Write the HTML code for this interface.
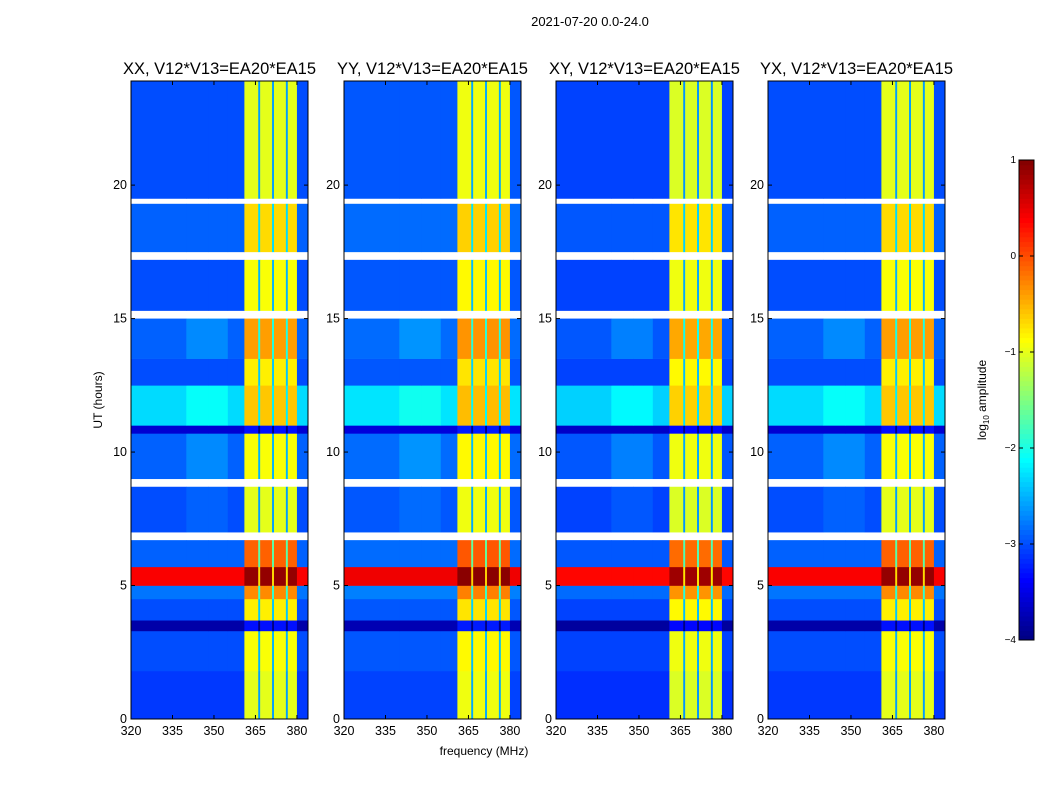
<!DOCTYPE html>
<html><head><meta charset="utf-8"><style>
body{margin:0;background:#fff;font-family:"Liberation Sans",sans-serif}
svg{display:block}
</style></head><body>
<svg id="fig" width="1050" height="800" xmlns="http://www.w3.org/2000/svg">
<rect width="1050" height="800" fill="#fff"/>
<text x="590" y="26" font-size="13" text-anchor="middle">2021-07-20 0.0-24.0</text>
<text x="484" y="755" font-size="12" text-anchor="middle">frequency (MHz)</text>
<text transform="translate(102,400) rotate(-90)" font-size="12" text-anchor="middle">UT (hours)</text>
<text transform="translate(986,400) rotate(-90)" font-size="12" text-anchor="middle">log<tspan font-size="8" dy="3">10</tspan><tspan dy="-3"> amplitude</tspan></text>
</svg>
<script>
const panelTitles=["XX, V12*V13=EA20*EA15","YY, V12*V13=EA20*EA15","XY, V12*V13=EA20*EA15","YX, V12*V13=EA20*EA15"];
const freqEdges=[320,340,348,355,361,366,366.7,371,371.7,376,376.7,380,384];
const freqType=[0,0,0,0,1,2,1,2,1,2,1,0];
const timeEdges=[0,1.8,3.3,3.7,4.5,5.0,5.7,6.7,7.0,8.7,9.0,10.7,11.0,12.5,13.5,15.0,15.3,17.2,17.5,19.3,19.5,24];
const bgLevel=[-3.1,-3.0,-3.8,-3.0,-2.8,0.4,-2.9,null,-3.0,null,-2.9,-3.6,-2.3,-3.0,-2.9,null,-3.0,null,-2.9,null,-3.0];
const bandLevel=[-1.0,-0.9,-3.3,-0.8,-0.3,0.9,-0.1,null,-1.0,null,-0.9,-3.3,-0.6,-0.8,-0.4,null,-0.9,null,-0.7,null,-1.0];
const midBoost=[0,0,0,0,0,0,0,0,0.1,0,0.2,0,0.2,0,0.2,0,0,0,0,0,0];
const panelOffset=[0,0.05,-0.05,0];
const xTicks=[320,335,350,365,380];
const yTicks=[0,5,10,15,20];
const cbTicks=[1,0,-1,-2,-3,-4];
const NS="http://www.w3.org/2000/svg";
const svg=document.getElementById('fig');
const panelLeft=[131,344,556,768],PW=177,PT=81,PB=719;
const fMin=320,fMax=384,tMin=0,tMax=23.9,vMin=-4,vMax=1;
function jet(v){let t=(v-vMin)/(vMax-vMin);t=Math.max(0,Math.min(1,t));
 const r=Math.max(0,Math.min(1,1.5-Math.abs(4*t-3))),g=Math.max(0,Math.min(1,1.5-Math.abs(4*t-2))),b=Math.max(0,Math.min(1,1.5-Math.abs(4*t-1)));
 return `rgb(${Math.round(r*255)},${Math.round(g*255)},${Math.round(b*255)})`;}
function mk(tag,attrs,parent){const e=document.createElementNS(NS,tag);for(const k in attrs)e.setAttribute(k,attrs[k]);(parent||svg).appendChild(e);return e;}
panelTitles.forEach((title,p)=>{
 const L=panelLeft[p];
 const xs=f=>L+(f-fMin)/(fMax-fMin)*PW;
 const ys=t=>PB-(t-tMin)/(tMax-tMin)*(PB-PT);
 const g=mk('g',{});
 
 
 for(let i=0;i<timeEdges.length-1;i++){
  for(let j=0;j<freqEdges.length-1;j++){
   let v;
   if(bgLevel[i]===null) continue;
   const ty=freqType[j];
   if(ty===0) v=bgLevel[i]+((j===1||j===2)?midBoost[i]:0);
   else if(ty===1) v=bandLevel[i];
   else v=bandLevel[i]-1.6;
   v+=panelOffset[p];
   const y0=ys(Math.min(timeEdges[i+1],tMax)),y1=ys(timeEdges[i]);
   const r=mk('rect',{x:xs(freqEdges[j]),y:y0,width:xs(freqEdges[j+1])-xs(freqEdges[j])+0.3,height:y1-y0+0.3,fill:jet(v)},g);
   
   
  }
 }
 const fr=mk('rect',{x:L,y:PT,width:PW,height:PB-PT,fill:'none',stroke:'#000','stroke-width':1},g);
 
 
 const tt=mk('text',{x:L+PW/2,y:74,'font-size':16.5,'text-anchor':'middle'},g);tt.textContent=title;
 
 
 xTicks.forEach(f=>{const x=xs(f);
  mk('line',{x1:x,x2:x,y1:PB,y2:PB-4,stroke:'#000'},g);mk('line',{x1:x,x2:x,y1:PT,y2:PT+4,stroke:'#000'},g);
  const t=mk('text',{x:x,y:PB+16,'font-size':12.5,'text-anchor':'middle'},g);t.textContent=f;
  
  });
 yTicks.forEach(h=>{const y=ys(h);
  mk('line',{x1:L,x2:L+4,y1:y,y2:y,stroke:'#000'},g);mk('line',{x1:L+PW,x2:L+PW-4,y1:y,y2:y,stroke:'#000'},g);
  const t=mk('text',{x:L-4,y:y+4,'font-size':12.5,'text-anchor':'end'},g);t.textContent=h;
  
  });
});
const CX=1019,CW=15,CT=160,CB=640;
const cy=v=>CB-(v-vMin)/(vMax-vMin)*(CB-CT);
const cbg=mk('g',{});


for(let k=0;k<100;k++){const v0=vMin+(vMax-vMin)*k/100,v1=vMin+(vMax-vMin)*(k+1)/100;
 mk('rect',{x:CX,y:cy(v1),width:CW,height:cy(v0)-cy(v1)+0.5,fill:jet((v0+v1)/2)},cbg);}
mk('rect',{x:CX,y:CT,width:CW,height:CB-CT,fill:'none',stroke:'#000'},cbg);
cbTicks.forEach(v=>{const y=cy(v);
 mk('line',{x1:CX+CW,x2:CX+CW-4,y1:y,y2:y,stroke:'#000'},cbg);mk('line',{x1:CX,x2:CX+4,y1:y,y2:y,stroke:'#000'},cbg);
 const t=mk('text',{x:CX-3,y:y+3,'font-size':10,'text-anchor':'end'},cbg);t.textContent=v<0?'\u2212'+(-v):v;
 
 });
</script>
</body></html>
